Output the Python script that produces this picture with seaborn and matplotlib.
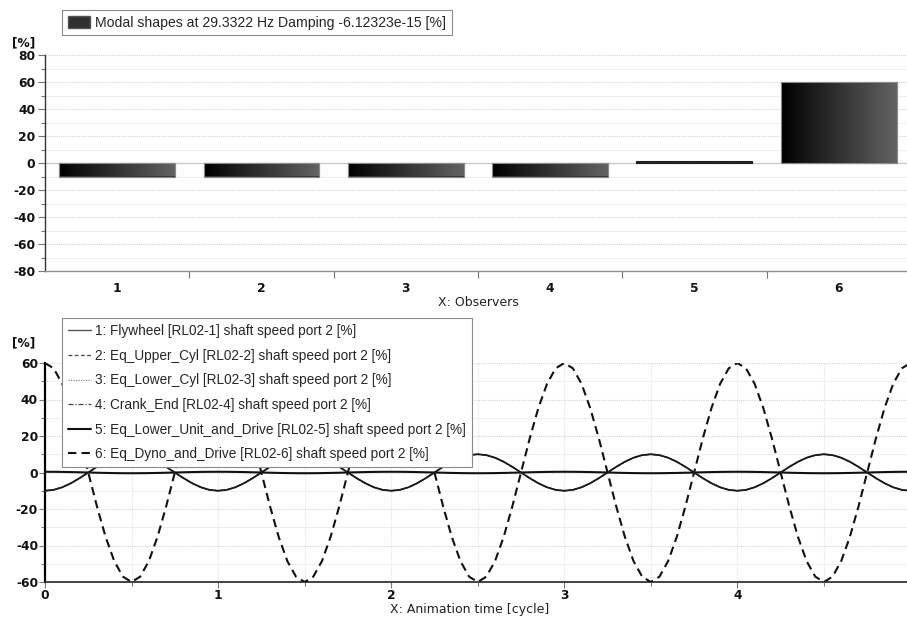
import numpy as np
import pandas as pd
import matplotlib
matplotlib.use("Agg")
import matplotlib.pyplot as plt
import seaborn as sns
from matplotlib.patches import Patch
from matplotlib.lines import Line2D
from matplotlib.ticker import MultipleLocator, FixedLocator
from matplotlib.colors import LinearSegmentedColormap

# ---------------- data ----------------
observers = ["1", "2", "3", "4", "5", "6"]
mode_amplitude = [-10.0, -10.0, -10.0, -10.0, 0.4, 60.0]   # [%]
bar_legend_label = "Modal shapes at 29.3322 Hz Damping -6.12323e-15 [%]"
series_labels = [
    "1: Flywheel [RL02-1] shaft speed port 2 [%]",
    "2: Eq_Upper_Cyl [RL02-2] shaft speed port 2 [%]",
    "3: Eq_Lower_Cyl [RL02-3] shaft speed port 2 [%]",
    "4: Crank_End [RL02-4] shaft speed port 2 [%]",
    "5: Eq_Lower_Unit_and_Drive [RL02-5] shaft speed port 2 [%]",
    "6: Eq_Dyno_and_Drive [RL02-6] shaft speed port 2 [%]",
]
anim_time = np.arange(0, 5.0001, 0.05)   # animation time [cycle]

# animated mode shape: amplitude * cos(2*pi*t)
rows = []
for lab, amp in zip(series_labels, mode_amplitude):
    for t in anim_time:
        rows.append((lab, t, amp * np.cos(2 * np.pi * t)))
df_lines = pd.DataFrame(rows, columns=["series", "t", "value"])
df_bars = pd.DataFrame({"observer": observers, "value": mode_amplitude})

# ---------------- style ----------------
sns.set_theme(style="white")
plt.rcParams["font.family"] = ["DejaVu Sans"]
plt.rcParams["axes.unicode_minus"] = False

W, H = 907, 620
fig = plt.figure(figsize=(W / 100, H / 100), dpi=100)


def fx(px):
    return px / W


def fy(py):
    return 1 - py / H


# ---------------- top: bar chart ----------------
ax1 = fig.add_axes([fx(45), fy(271), fx(866), fy(55) - fy(271)])
sns.barplot(data=df_bars, x="observer", y="value", color="#303030",
            width=0.8, ax=ax1, edgecolor="#8a8a8a", linewidth=0.8, zorder=3)
ax1.set_ylim(-80, 80)
ax1.set_xlim(-0.5, 5.5)

grad = np.linspace(0, 1, 256).reshape(1, -1)
gcmap = LinearSegmentedColormap.from_list("g", ["#000000", "#636363"])
for p in list(ax1.patches):
    x0, y0 = p.get_x(), p.get_y()
    w, h = p.get_width(), p.get_height()
    if abs(h) < 1.2:
        p.set_facecolor("#222222")
        p.set_edgecolor("#222222")
        p.set_linewidth(1.5)
        continue
    ylo, yhi = min(y0, y0 + h), max(y0, y0 + h)
    im = ax1.imshow(grad, cmap=gcmap, aspect="auto",
                    extent=(x0, x0 + w, ylo, yhi), zorder=3.5,
                    interpolation="bilinear")
    im.set_clip_path(p)
    ax1.add_patch(plt.Rectangle((x0, y0), w, h, fill=False,
                                edgecolor="#8a8a8a", linewidth=0.8, zorder=4))
ax1.set_xlim(-0.5, 5.5)
ax1.set_ylim(-80, 80)

ax1.yaxis.set_major_locator(MultipleLocator(20))
ax1.yaxis.set_minor_locator(MultipleLocator(10))
ax1.xaxis.set_minor_locator(FixedLocator(np.arange(0.5, 5.0, 1.0)))
ax1.grid(which="major", axis="y", color="#d4d4d4", linestyle=(0, (1, 1)), linewidth=0.8)
ax1.grid(which="minor", axis="y", color="#efefef", linestyle="-", linewidth=0.8)
ax1.axhline(0, color="#c8c8c8", linewidth=0.9, zorder=2)
ax1.set_xlabel("X: Observers", fontsize=9, color="#222222")
ax1.set_ylabel("")
for s in ["top", "right"]:
    ax1.spines[s].set_visible(False)
ax1.spines["left"].set_color("#333333")
ax1.spines["left"].set_linewidth(1.0)
ax1.spines["bottom"].set_color("#909090")
ax1.spines["bottom"].set_linewidth(1.0)
ax1.tick_params(axis="y", which="major", direction="out", length=5, width=0.8,
                color="#777777", left=True, pad=2)
ax1.tick_params(axis="y", which="minor", direction="out", length=3, width=0.8,
                color="#777777", left=True)
ax1.tick_params(axis="x", which="major", length=0, pad=8)
ax1.tick_params(axis="x", which="minor", direction="out", length=5, width=0.8,
                color="#777777", bottom=True)
for lab in ax1.get_xticklabels() + ax1.get_yticklabels():
    lab.set_fontsize(8.8)
    lab.set_fontweight("bold")
    lab.set_color("#111111")
ax1.xaxis.set_label_coords((478 - 45) / 866, -0.115)

fig.text(fx(12), fy(43), "[%]", fontsize=8.8, fontweight="bold", va="center",
         ha="left", color="#111111")

leg1 = fig.legend(handles=[Patch(facecolor="#303030", edgecolor="#555555")],
                  labels=[bar_legend_label], loc="upper left",
                  bbox_to_anchor=(fx(62), fy(10)), borderaxespad=0,
                  fancybox=False, edgecolor="#8a8a8a", framealpha=1,
                  borderpad=0.4, handlelength=1.6, handleheight=1.0,
                  handletextpad=0.35,
                  prop={"family": "Liberation Sans", "size": 10.1})
leg1.get_frame().set_linewidth(0.8)

# ---------------- bottom: animated lines ----------------
ax2 = fig.add_axes([fx(45), fy(582), 1 - fx(45), fy(363) - fy(582)])
line_styles = [
    dict(color="#1a1a1a", linestyle="-", linewidth=1.3, zorder=3.5),
    dict(color="#444444", linestyle=(0, (3, 2)), linewidth=0.9, zorder=3),
    dict(color="#888888", linestyle=(0, (1, 1)), linewidth=0.9, zorder=3),
    dict(color="#444444", linestyle=(0, (4, 1.5, 1, 1.5)), linewidth=0.9, zorder=3),
    dict(color="#111111", linestyle="-", linewidth=1.5, zorder=3),
    dict(color="#111111", linestyle=(0, (4, 2.5)), linewidth=1.5, zorder=3),
]
legend_styles = [
    dict(color="#555555", linestyle="-", linewidth=1.0),
    dict(color="#444444", linestyle=(0, (3, 2)), linewidth=0.9),
    dict(color="#888888", linestyle=(0, (1, 1)), linewidth=0.9),
    dict(color="#444444", linestyle=(0, (4, 1.5, 1, 1.5)), linewidth=0.9),
    dict(color="#111111", linestyle="-", linewidth=1.5),
    dict(color="#111111", linestyle=(0, (4, 2.5)), linewidth=1.5),
]
handles = []
for lab, st, lst in zip(series_labels, line_styles, legend_styles):
    sub = df_lines[df_lines["series"] == lab]
    sns.lineplot(data=sub, x="t", y="value", ax=ax2, legend=False, **st)
    handles.append(Line2D([], [], **lst))
ax2.set_xlim(0, 4.98)
ax2.set_ylim(-60, 60)
ax2.xaxis.set_major_locator(MultipleLocator(1))
ax2.xaxis.set_minor_locator(MultipleLocator(0.5))
ax2.yaxis.set_major_locator(MultipleLocator(20))
ax2.yaxis.set_minor_locator(MultipleLocator(10))
ax2.grid(which="major", axis="y", color="#d4d4d4", linestyle=(0, (1, 1)), linewidth=0.8)
ax2.grid(which="minor", axis="y", color="#efefef", linestyle="-", linewidth=0.8)
ax2.grid(which="both", axis="x", color="#e4e4e4", linestyle=(0, (1, 1)), linewidth=0.8)
ax2.set_xlabel("X: Animation time [cycle]", fontsize=9, color="#222222")
ax2.set_ylabel("")
for s in ["top", "right"]:
    ax2.spines[s].set_visible(False)
ax2.spines["left"].set_color("#000000")
ax2.spines["left"].set_linewidth(1.6)
ax2.spines["bottom"].set_color("#333333")
ax2.spines["bottom"].set_linewidth(1.3)
ax2.tick_params(axis="both", which="major", direction="out", length=4, width=0.8,
                color="#777777", left=True, bottom=True, pad=1)
ax2.tick_params(axis="both", which="minor", direction="out", length=3, width=0.8,
                color="#777777", left=True, bottom=True)
for lab in ax2.get_xticklabels() + ax2.get_yticklabels():
    lab.set_fontsize(8.8)
    lab.set_fontweight("bold")
    lab.set_color("#111111")
ax2.xaxis.set_label_coords((470 - 45) / (W - 45), -0.095)

fig.text(fx(12), fy(343), "[%]", fontsize=8.8, fontweight="bold", va="center",
         ha="left", color="#111111")

leg2 = fig.legend(handles=handles, labels=series_labels, loc="upper left",
                  bbox_to_anchor=(fx(62), fy(318)), borderaxespad=0,
                  fancybox=False, edgecolor="#8a8a8a", framealpha=1,
                  borderpad=0.45, labelspacing=0.78, handlelength=1.7,
                  handletextpad=0.3,
                  prop={"family": "Liberation Sans", "size": 9.8})
leg2.get_frame().set_linewidth(0.8)

# gradient on the bar legend handle
fig.canvas.draw()
hb = leg1.legend_handles[0].get_window_extent(fig.canvas.get_renderer())
hax = fig.add_axes([hb.x0 / W, hb.y0 / H, hb.width / W, hb.height / H])
hax.imshow(grad, cmap=gcmap, aspect="auto", interpolation="bilinear")
hax.set_xticks([])
hax.set_yticks([])
for s in hax.spines.values():
    s.set_color("#555555")
    s.set_linewidth(0.8)

fig.savefig("out.png", dpi=100)
